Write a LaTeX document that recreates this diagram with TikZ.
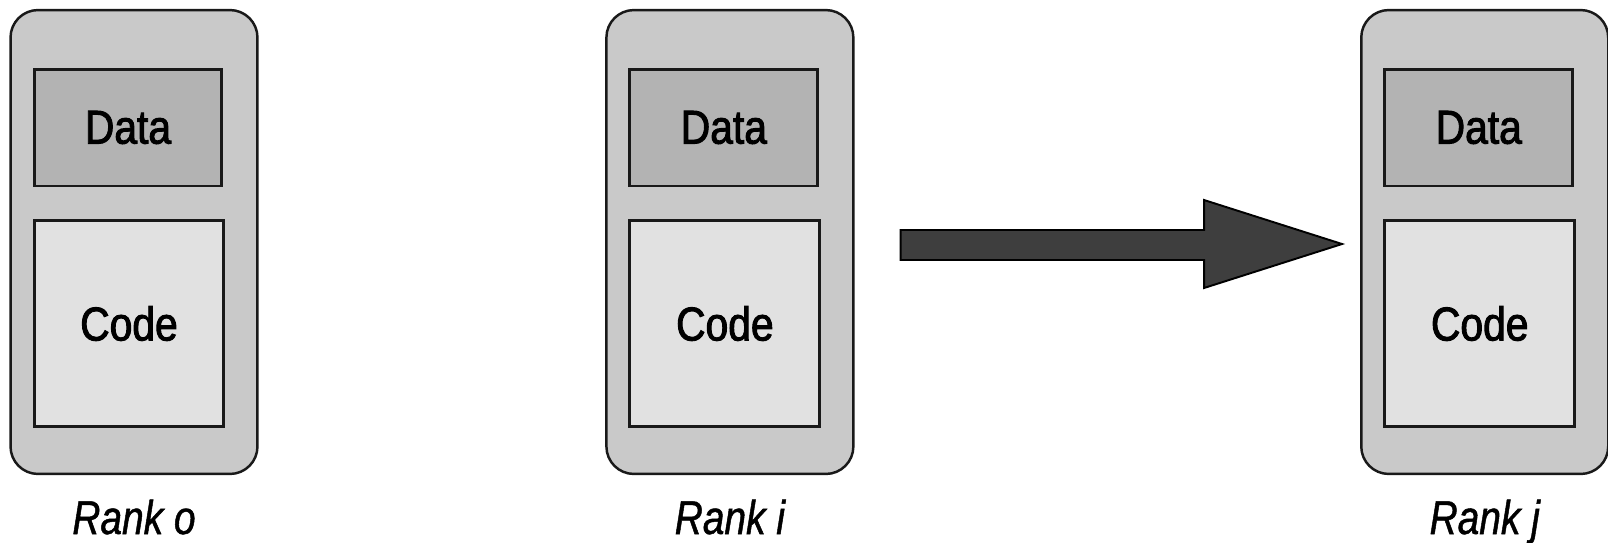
\documentclass[tikz,border=0pt]{standalone}
\usepackage{fontspec}
\setmainfont[FakeStretch=0.86,FakeBold=2]{Liberation Sans}
\newfontfamily\rankfont[FakeStretch=0.82,FakeBold=1]{Liberation Sans}
\usetikzlibrary{calc}

\definecolor{procgray}{HTML}{C9C9C9}
\definecolor{datagray}{HTML}{B3B3B3}
\definecolor{codegray}{HTML}{E1E1E1}
\definecolor{arrowgray}{HTML}{3E3E3E}

\tikzset{
  rankbox/.style={draw=black!90, line width=1.4pt, fill=procgray, rounded corners=0.55cm,
    minimum width=4.94cm, minimum height=9.28cm},
  databox/.style={draw=black!90, line width=1.7pt, fill=datagray,
    minimum width=3.76cm, minimum height=2.34cm, font=\fontsize{27}{30}\selectfont},
  codebox/.style={draw=black!90, line width=1.7pt, fill=codegray,
    minimum width=3.8cm, minimum height=4.14cm, font=\fontsize{27}{30}\selectfont},
  ranklabel/.style={anchor=base, font=\rankfont\itshape\fontsize{27}{32}\selectfont}
}

\begin{document}
\begin{tikzpicture}[x=0.02cm, y=-0.02cm]
\useasboundingbox (0,0) rectangle (1608,542);
% Rank o
\node[rankbox] (rank0) at (134,242) {};
\node[databox] (data0) at (128,127.5) {Data};
\node[codebox] (code0) at (129,323.5) {Code};
\node[ranklabel] (label0) at (134,534) {Rank o};
% Rank i
\begin{scope}[xshift=11.92cm]
\node[rankbox] (rank1) at (134,242) {};
\node[databox] (data1) at (128,127.5) {Data};
\node[codebox] (code1) at (129,323.5) {Code};
\node[ranklabel] (label1) at (134,534) {Rank i};
\end{scope}
% Rank j
\begin{scope}[xshift=27.02cm]
\node[rankbox] (rank2) at (134,242) {};
\node[databox] (data2) at (128,127.5) {Data};
\node[codebox] (code2) at (129,323.5) {Code};
\node[ranklabel] (label2) at (134,534) {Rank j};
\end{scope}
% Block arrow from rank i to rank j
\coordinate (tail) at ($(rank1.east)+(46,3)$);
\coordinate (tip) at ($(rank2.west)+(-18,2)$);
\draw[line width=1.1pt, fill=arrowgray] ($(tail)+(0,-15)$) -- ($(tip)+(-138,-14)$)
  -- ($(tip)+(-138,-44)$) -- (tip) -- ($(tip)+(-138,44)$)
  -- ($(tip)+(-138,16)$) -- ($(tail)+(0,15)$) -- cycle;
\end{tikzpicture}
\end{document}
